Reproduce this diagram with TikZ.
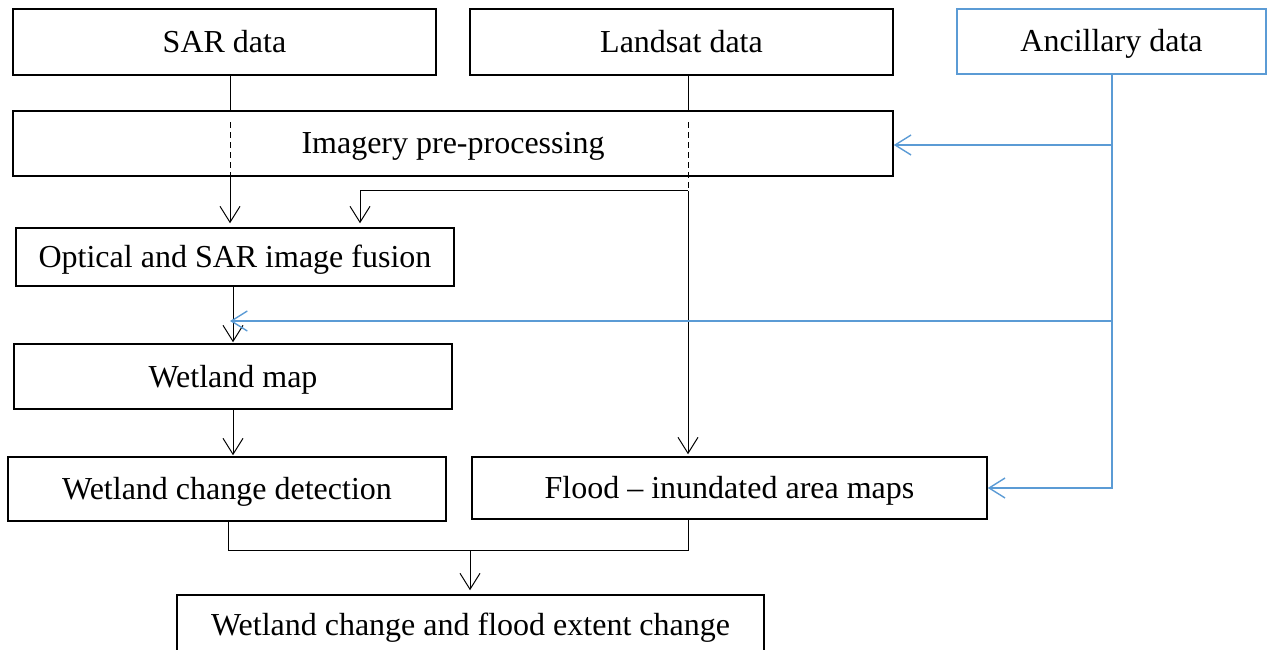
\documentclass[tikz,border=0pt]{standalone}
\usepackage{fontspec}
\setmainfont{Liberation Serif}
\usetikzlibrary{arrows.meta,calc}
\definecolor{ancblue}{RGB}{91,155,213}
\begin{document}
\begin{tikzpicture}[x=1pt,y=-1pt,
  box/.style={draw, line width=1.5pt, inner sep=0pt, text height=25pt, text depth=4pt, font=\fontsize{32}{38}\selectfont},
  conn/.style={line width=1pt},
  arr/.style={conn, -{Straight Barb[length=16pt,width=20pt]}},
  dashline/.style={conn, dash pattern=on 6pt off 4pt},
  blueline/.style={color=ancblue, line width=1.4pt},
  bluearr/.style={blueline, -{Straight Barb[length=16pt,width=20pt]}}]

\useasboundingbox (0,0) rectangle (1275,650);
\clip (0,0) rectangle (1275,650);

% boxes
\node[box, minimum width=423pt, minimum height=66pt] (sar) at (224.5,42) {SAR data};
\node[box, minimum width=423pt, minimum height=66pt] (land) at (681.5,42) {Landsat data};
\node[box, draw=ancblue, minimum width=309pt, minimum height=65pt] (anc) at (1111.5,41.5) {Ancillary data};
\node[box, minimum width=880pt, minimum height=65pt] (pre) at (453,143.5) {Imagery pre-processing};
\node[box, minimum width=438pt, minimum height=58pt] (fus) at (235,257) {Optical and SAR image fusion};
\node[box, minimum width=438pt, minimum height=65pt] (wet) at (233,376.5) {Wetland map};
\node[box, minimum width=438pt, minimum height=64pt] (chg) at (227,489) {Wetland change detection};
\node[box, minimum width=515pt, minimum height=62pt] (flood) at (729.5,488) {Flood -- inundated area maps};
\node[box, minimum width=587pt, minimum height=60pt] (fin) at (470.5,625) {Wetland change and flood extent change};

% column / row helpers
\coordinate (xS) at (230,0);
\coordinate (xL) at (688,0);
\coordinate (xW) at (233,0);
\coordinate (xF) at (360,0);
\coordinate (xC) at (228,0);
\coordinate (xB) at (470,0);
\coordinate (xA) at (1112,0);
\coordinate (yP) at (0,145);
\coordinate (yJ) at (0,191);
\coordinate (yM) at (0,321);
\coordinate (yB) at (0,550);

% SAR branch
\draw[conn] (sar.south -| xS) -- (pre.north -| xS);
\draw[dashline] ($(pre.north -| xS)+(0,12)$) -- (pre.south -| xS);
\draw[arr, shorten >=4pt] (pre.south -| xS) -- (fus.north -| xS);

% Landsat branch
\draw[conn] (land.south -| xL) -- (pre.north -| xL);
\draw[dashline] ($(pre.north -| xL)+(0,12)$) -- (xL |- yJ);
\draw[arr, shorten >=4pt] (xL |- yJ) -| (fus.north -| xF);
\draw[arr, shorten >=2pt] (xL |- yJ) -- (flood.north -| xL);

% fusion chain
\draw[arr, shorten >=1pt] (fus.south -| xW) -- (wet.north -| xW);
\draw[arr, shorten >=1pt] (wet.south -| xW) -- (chg.north -| xW);

% merge to final
\draw[conn] (chg.south -| xC) -- (xC |- yB) -- (xL |- yB) -- (flood.south -| xL);
\draw[arr, shorten >=4pt] (xB |- yB) -- (fin.north -| xB);

% ancillary branch
\draw[bluearr] (anc.south -| xA) |- (flood.east);
\draw[bluearr] (xA |- yP) -- (pre.east |- yP);
\draw[bluearr] (xA |- yM) -- (xS |- yM);
\end{tikzpicture}
\end{document}
